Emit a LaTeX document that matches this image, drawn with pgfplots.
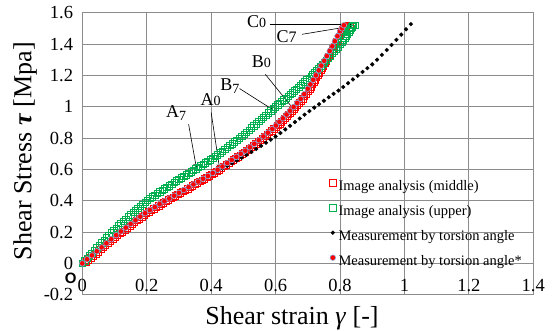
\documentclass[border=0pt]{standalone}
\usepackage{fontspec}
\setmainfont{Liberation Serif}
\newfontfamily\sansb{Liberation Sans}
\usepackage{pgfplots}
\pgfplotsset{compat=1.18}
\usetikzlibrary{arrows.meta}
\definecolor{gridgray}{RGB}{140,140,140}
\definecolor{xlgreen}{RGB}{0,176,80}
\definecolor{xlred}{RGB}{255,0,0}
\definecolor{edgeblue}{RGB}{140,170,215}
\newcommand\sub[1]{\raisebox{-2.5pt}{\fontsize{14}{14}\selectfont #1}}
\newcommand\zer{{\fontsize{14}{14}\selectfont 0}}
\begin{document}
\begin{tikzpicture}
\begin{axis}[
 scale only axis, width=451pt, height=282pt,
 xmin=0,xmax=1.4,ymin=-0.2,ymax=1.6,
 xtick={0,0.2,0.4,0.6,0.8,1,1.2,1.4},
 xticklabels={0,0.2,0.4,0.6,0.8,1,1.2,1.4},
 ytick={-0.2,0,0.2,0.4,0.6,0.8,1,1.2,1.4,1.6},
 yticklabels={-0.2,0,0.2,0.4,0.6,0.8,1,1.2,1.4,1.6},
 grid=major, major grid style={gridgray,line width=0.8pt},
 axis line style={gridgray,line width=0.8pt},
 major tick length=0pt,
 tick label style={font=\fontsize{18.5}{20}\selectfont},
 yticklabel style={xshift=-8pt, inner sep=1pt},
 xticklabel style={anchor=base,yshift=3.3pt},
 clip=false,
 legend style={at={(rel axis cs:0.548,0.413)}, anchor=north west, draw=none, fill=none,
   font=\fontsize{14.5}{17}\selectfont, inner sep=0pt, row sep=8.5pt, column sep=1.5pt,
   nodes={inner sep=1pt, text height=11pt, text depth=3.5pt}},
 legend cell align=left,
 legend image code/.code={\draw[mark repeat=2,mark phase=2,#1] plot coordinates {(0pt,4pt)(3pt,4pt)(6pt,4pt)};},
]
% Image analysis (middle)
\addplot[xlred, only marks, mark=square, mark size=3.2pt, mark options={draw=xlred, line width=0.6pt, fill=none}] coordinates {
(0,0) (0.012,0.010) (0.0195,0.023) (0.027,0.036) (0.0345,0.049) (0.042,0.062) (0.0495,0.075)
(0.057,0.088) (0.0645,0.101) (0.072,0.114) (0.0795,0.127) (0.087,0.140) (0.0945,0.153) (0.102,0.166)
(0.1095,0.178) (0.117,0.190) (0.1245,0.202) (0.132,0.214) (0.1395,0.226) (0.147,0.238) (0.1545,0.250)
(0.162,0.262) (0.1695,0.273) (0.177,0.285) (0.1845,0.296) (0.192,0.307) (0.1995,0.318) (0.207,0.329)
(0.2145,0.339) (0.222,0.349) (0.2295,0.358) (0.237,0.368) (0.2445,0.377) (0.252,0.387) (0.2595,0.396)
(0.267,0.405) (0.2745,0.414) (0.282,0.423) (0.2895,0.432) (0.297,0.441) (0.3045,0.450) (0.312,0.459)
(0.3195,0.468) (0.327,0.477) (0.3345,0.486) (0.342,0.495) (0.3495,0.504) (0.357,0.513) (0.3645,0.522)
(0.372,0.531) (0.3795,0.540) (0.387,0.549) (0.3945,0.558) (0.402,0.567) (0.4095,0.577) (0.417,0.587)
(0.4245,0.597) (0.432,0.607) (0.4395,0.618) (0.447,0.629) (0.4545,0.640) (0.462,0.651) (0.469,0.661)
(0.476,0.671) (0.483,0.681) (0.490,0.690) (0.497,0.700) (0.504,0.710) (0.511,0.720) (0.518,0.731)
(0.525,0.742) (0.532,0.753) (0.539,0.764) (0.546,0.776) (0.553,0.787) (0.560,0.799) (0.567,0.811)
(0.574,0.823) (0.581,0.835) (0.588,0.847) (0.595,0.859) (0.602,0.870) (0.607,0.881) (0.613,0.892)
(0.618,0.903) (0.624,0.915) (0.629,0.926) (0.635,0.938) (0.640,0.950) (0.646,0.962) (0.651,0.974)
(0.657,0.986) (0.662,0.998) (0.668,1.011) (0.673,1.024) (0.679,1.037) (0.684,1.050) (0.690,1.065)
(0.695,1.080) (0.701,1.097) (0.706,1.115) (0.710,1.128) (0.714,1.142) (0.719,1.157) (0.723,1.172)
(0.727,1.186) (0.731,1.200) (0.736,1.216) (0.740,1.232) (0.744,1.247) (0.748,1.262) (0.753,1.278)
(0.757,1.293) (0.761,1.308) (0.765,1.323) (0.770,1.339) (0.774,1.355) (0.778,1.370) (0.782,1.386)
(0.786,1.402) (0.790,1.418) (0.794,1.434) (0.798,1.450) (0.802,1.466) (0.806,1.482) (0.809,1.491)
(0.812,1.500) (0.816,1.508) (0.820,1.515) (0.825,1.518) (0.830,1.520)
};
\addlegendentry{Image analysis (middle)}
% Image analysis (upper)
\addplot[xlgreen, only marks, mark=square, mark size=3.2pt, mark options={draw=xlgreen, line width=0.6pt, fill=none}] coordinates {
(0,0) (0.0075,0.0165) (0.015,0.033) (0.0225,0.0495) (0.03,0.066) (0.0375,0.0825) (0.045,0.099)
(0.0525,0.115) (0.06,0.131) (0.0675,0.147) (0.075,0.163) (0.0825,0.179) (0.09,0.195) (0.0975,0.210)
(0.105,0.225) (0.1125,0.240) (0.12,0.254) (0.1275,0.268) (0.135,0.282) (0.1425,0.296) (0.15,0.310)
(0.1575,0.324) (0.165,0.337) (0.1725,0.351) (0.18,0.364) (0.1875,0.377) (0.195,0.390) (0.2025,0.402)
(0.21,0.414) (0.2175,0.425) (0.225,0.436) (0.2325,0.447) (0.24,0.457) (0.2475,0.467) (0.255,0.477)
(0.2625,0.487) (0.27,0.496) (0.2775,0.506) (0.285,0.516) (0.2925,0.526) (0.30,0.535) (0.3075,0.545)
(0.315,0.555) (0.3225,0.565) (0.33,0.574) (0.3375,0.584) (0.345,0.594) (0.3525,0.604) (0.36,0.613)
(0.3675,0.623) (0.375,0.632) (0.3825,0.642) (0.39,0.652) (0.3975,0.662) (0.405,0.672) (0.4125,0.683)
(0.42,0.694) (0.4275,0.705) (0.435,0.716) (0.4425,0.728) (0.45,0.740) (0.4575,0.752) (0.465,0.763)
(0.4725,0.775) (0.48,0.787) (0.4875,0.799) (0.495,0.811) (0.5025,0.824) (0.51,0.837) (0.5175,0.851)
(0.525,0.864) (0.5325,0.878) (0.54,0.891) (0.5475,0.905) (0.555,0.919) (0.5625,0.933) (0.57,0.946)
(0.5775,0.960) (0.585,0.973) (0.5925,0.987) (0.60,1.000) (0.6065,1.011) (0.613,1.022) (0.6195,1.033)
(0.626,1.044) (0.6325,1.055) (0.639,1.066) (0.6455,1.078) (0.652,1.089) (0.6585,1.101) (0.665,1.112)
(0.6715,1.124) (0.678,1.135) (0.6845,1.147) (0.691,1.158) (0.6975,1.171) (0.704,1.183) (0.710,1.195)
(0.716,1.207) (0.722,1.220) (0.728,1.232) (0.734,1.245) (0.740,1.257) (0.746,1.271) (0.752,1.284)
(0.758,1.298) (0.764,1.311) (0.770,1.325) (0.776,1.339) (0.782,1.354) (0.788,1.368) (0.794,1.383)
(0.800,1.398) (0.805,1.412) (0.810,1.425) (0.8145,1.439) (0.819,1.452) (0.823,1.465) (0.827,1.478)
(0.8305,1.489) (0.834,1.500) (0.837,1.510) (0.840,1.520) (0.846,1.520)
};
\addlegendentry{Image analysis (upper)}
% Measurement by torsion angle
\addplot[black, only marks, mark=*, mark size=1.9pt, mark options={draw=black, fill=black}] coordinates {
(0,0) (0.015,0.026) (0.03,0.052) (0.045,0.078) (0.06,0.104) (0.075,0.129) (0.09,0.155)
(0.105,0.180) (0.12,0.204) (0.135,0.228) (0.15,0.252) (0.165,0.275) (0.18,0.298) (0.195,0.320)
(0.21,0.340) (0.225,0.359) (0.24,0.378) (0.255,0.396) (0.27,0.414) (0.285,0.432) (0.30,0.450)
(0.315,0.467) (0.33,0.485) (0.345,0.502) (0.36,0.519) (0.375,0.536) (0.39,0.553) (0.405,0.571)
(0.42,0.588) (0.435,0.605) (0.45,0.622) (0.465,0.639) (0.48,0.656) (0.495,0.674) (0.51,0.692)
(0.525,0.711) (0.54,0.730) (0.555,0.750) (0.57,0.770) (0.585,0.790) (0.60,0.810) (0.615,0.832)
(0.63,0.855) (0.645,0.878) (0.66,0.902) (0.675,0.925) (0.69,0.949) (0.705,0.972) (0.72,0.994)
(0.735,1.016) (0.75,1.038) (0.765,1.060) (0.78,1.082) (0.795,1.103) (0.81,1.126) (0.825,1.150)
(0.84,1.174) (0.855,1.198) (0.87,1.222) (0.885,1.246) (0.90,1.270) (0.915,1.300) (0.93,1.331)
(0.945,1.362) (0.96,1.394) (0.975,1.427) (0.99,1.460) (1.005,1.494) (1.02,1.527)
};
\addlegendentry{Measurement by torsion angle}
% Measurement by torsion angle*
\addplot[xlred, only marks, mark=*, mark size=2.8pt, mark options={draw=edgeblue, fill=xlred, line width=0.6pt}] coordinates {
(0,0) (0.015,0.026) (0.03,0.051) (0.045,0.077) (0.06,0.102) (0.075,0.128) (0.09,0.154)
(0.105,0.180) (0.12,0.204) (0.135,0.228) (0.15,0.252) (0.165,0.275) (0.18,0.298) (0.195,0.320)
(0.21,0.340) (0.225,0.359) (0.24,0.378) (0.255,0.396) (0.27,0.414) (0.285,0.432) (0.30,0.450)
(0.315,0.468) (0.33,0.486) (0.345,0.504) (0.36,0.522) (0.375,0.540) (0.39,0.558) (0.405,0.577)
(0.42,0.597) (0.435,0.618) (0.45,0.640) (0.464,0.660) (0.478,0.680) (0.492,0.699) (0.506,0.719)
(0.52,0.741) (0.534,0.763) (0.548,0.786) (0.562,0.810) (0.576,0.834) (0.59,0.858) (0.601,0.880)
(0.612,0.903) (0.623,0.926) (0.634,0.950) (0.645,0.974) (0.656,0.998) (0.667,1.024) (0.678,1.050)
(0.689,1.080) (0.700,1.115) (0.708,1.142) (0.717,1.172) (0.725,1.200) (0.734,1.232) (0.742,1.262)
(0.751,1.293) (0.759,1.323) (0.768,1.355) (0.776,1.386) (0.784,1.418) (0.792,1.450) (0.800,1.482)
(0.806,1.500) (0.812,1.520)
};
\addlegendentry{Measurement by torsion angle*}
% annotations
\begin{scope}[font=\fontsize{18}{18}\selectfont]
\node at (axis cs:0.541,1.545) {C\zer};
\node at (axis cs:0.634,1.448) {C{\fontsize{16}{16}\selectfont 7}};
\node at (axis cs:0.556,1.29) {B\zer};
\node at (axis cs:0.458,1.131) {B\sub{7}};
\node at (axis cs:0.398,1.048) {A\zer};
\node at (axis cs:0.291,0.958) {A\sub{7}};
\end{scope}
\begin{scope}[-{To[length=4pt,width=5pt]}, line width=0.6pt, black]
\draw (axis cs:0.584,1.526) -- (axis cs:0.839,1.526);
\draw (axis cs:0.682,1.462) -- (axis cs:0.838,1.515);
\draw (axis cs:0.568,1.207) -- (axis cs:0.656,0.984);
\draw (axis cs:0.488,1.116) -- (axis cs:0.592,0.980);
\draw (axis cs:0.400,0.963) -- (axis cs:0.426,0.608);
\draw (axis cs:0.330,0.888) -- (axis cs:0.354,0.612);
\end{scope}
\node[inner sep=0pt, font=\sansb\bfseries\fontsize{15}{15}\selectfont] at (axis cs:-0.036,-0.098) {O};
\node[rotate=90, font=\fontsize{26}{26}\selectfont] at (rel axis cs:-0.127,0.509) {Shear Stress \textbf{\textit{τ}} [Mpa]};
\node[anchor=base, font=\fontsize{26}{26}\selectfont] at (rel axis cs:0.465,-0.105) {Shear strain \textit{γ} [-]};
\end{axis}
\pgfresetboundingbox
\useasboundingbox (-82.3pt,-36pt) rectangle (475.7pt,294.7pt);
\end{tikzpicture}
\end{document}
